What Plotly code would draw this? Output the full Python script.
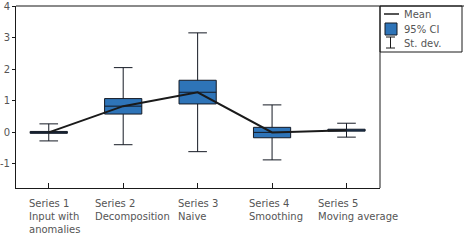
import plotly.graph_objects as go

categories = ["Series 1<br>Input with<br>anomalies", "Series 2<br>Decomposition", "Series 3<br>Naive",
              "Series 4<br>Smoothing", "Series 5<br>Moving average"]
means = [0.0, 0.83, 1.27, 0.0, 0.07]
ci_low = [-0.03, 0.58, 0.90, -0.17, 0.04]
ci_high = [0.03, 1.07, 1.65, 0.16, 0.10]
sd = [0.27, 1.22, 1.88, 0.87, 0.22]
y_ticks = [-1, 0, 1, 2, 3, 4]
y_tick_text = ["-1", "0", "1", "2", "3", "4"]

W, H = 466, 240
L, R, T, B = 16, 380, 6, 188
FONT = "DejaVu Sans"
TXT = "#555555"
label_left_px = [27, 93, 176, 247, 316]

def px(x):
    return (x - L) / (R - L)

def py(y):
    return (B - y) / (B - T)

xs = list(range(len(categories)))
fig = go.Figure()

fig.add_trace(go.Box(
    x=xs, q1=ci_low, median=means, q3=ci_high,
    lowerfence=[m - s for m, s in zip(means, sd)],
    upperfence=[m + s for m, s in zip(means, sd)],
    width=0.5, whiskerwidth=0.5, boxpoints=False,
    fillcolor="#2e74b8", line=dict(color="#151a24", width=1),
    showlegend=False, hoverinfo="skip",
))
fig.add_trace(go.Scatter(
    x=xs, y=means, mode="lines", line=dict(color="#1a1a1a", width=2),
    showlegend=False, hoverinfo="skip",
))

annotations = []
for c, lx in zip(categories, label_left_px):
    annotations.append(dict(
        x=px(lx), xref="paper", y=py(196), yref="paper", text=c, showarrow=False,
        xanchor="left", yanchor="top", align="left",
        font=dict(family=FONT, size=10, color=TXT),
    ))

shapes = [
    dict(type="line", xref="paper", yref="paper", x0=0, x1=px(464), y0=1, y1=1,
         line=dict(color="#8a8a8a", width=2)),
    dict(type="line", xref="paper", yref="paper", x0=1, x1=1, y0=0, y1=1,
         line=dict(color="#1a1a1a", width=1)),
    # legend box
    dict(type="rect", xref="paper", yref="paper", x0=1, x1=px(462), y0=py(52), y1=1,
         line=dict(color="#1a1a1a", width=1)),
    dict(type="line", xref="paper", yref="paper", x0=px(384), x1=px(399), y0=py(14), y1=py(14),
         line=dict(color="#555555", width=2)),
    dict(type="rect", xref="paper", yref="paper", x0=px(385), x1=px(397), y0=py(35), y1=py(23),
         fillcolor="#2e74b8", line=dict(color="#151a24", width=1)),
    dict(type="line", xref="paper", yref="paper", x0=px(390.5), x1=px(390.5), y0=py(48), y1=py(37),
         line=dict(color="#1a1a1a", width=1)),
    dict(type="line", xref="paper", yref="paper", x0=px(386), x1=px(395), y0=py(37), y1=py(37),
         line=dict(color="#1a1a1a", width=1)),
    dict(type="line", xref="paper", yref="paper", x0=px(386), x1=px(395), y0=py(48), y1=py(48),
         line=dict(color="#1a1a1a", width=1)),
]
for label, yy in [("Mean", 14.3), ("95% CI", 29.3), ("St. dev.", 43.3)]:
    annotations.append(dict(
        x=px(402), xref="paper", y=py(yy), yref="paper", text=label, showarrow=False,
        xanchor="left", yanchor="middle", font=dict(family=FONT, size=10, color=TXT),
    ))

fig.update_layout(
    width=W, height=H,
    margin=dict(l=L, r=W - R, t=T, b=H - B),
    paper_bgcolor="white", plot_bgcolor="white",
    showlegend=False,
    xaxis=dict(range=[-0.44, 4.45], tickvals=xs, showticklabels=False,
               ticks="inside", ticklen=5, tickcolor="#1a1a1a",
               showline=True, linecolor="#1a1a1a", linewidth=1,
               showgrid=False, zeroline=False, fixedrange=True, automargin=False),
    yaxis=dict(range=[-1.76, 4.0], tickvals=y_ticks, ticktext=y_tick_text,
               ticks="outside", ticklen=3,
               tickcolor="#1a1a1a", showline=True, linecolor="#1a1a1a", linewidth=1,
               showgrid=False, zeroline=False, automargin=False,
               tickfont=dict(family=FONT, size=10, color=TXT), fixedrange=True),
    annotations=annotations, shapes=shapes,
)

fig.write_html("out.html", config={"displayModeBar": False},
               post_script="document.body.style.margin='0';document.body.style.padding='0';")
